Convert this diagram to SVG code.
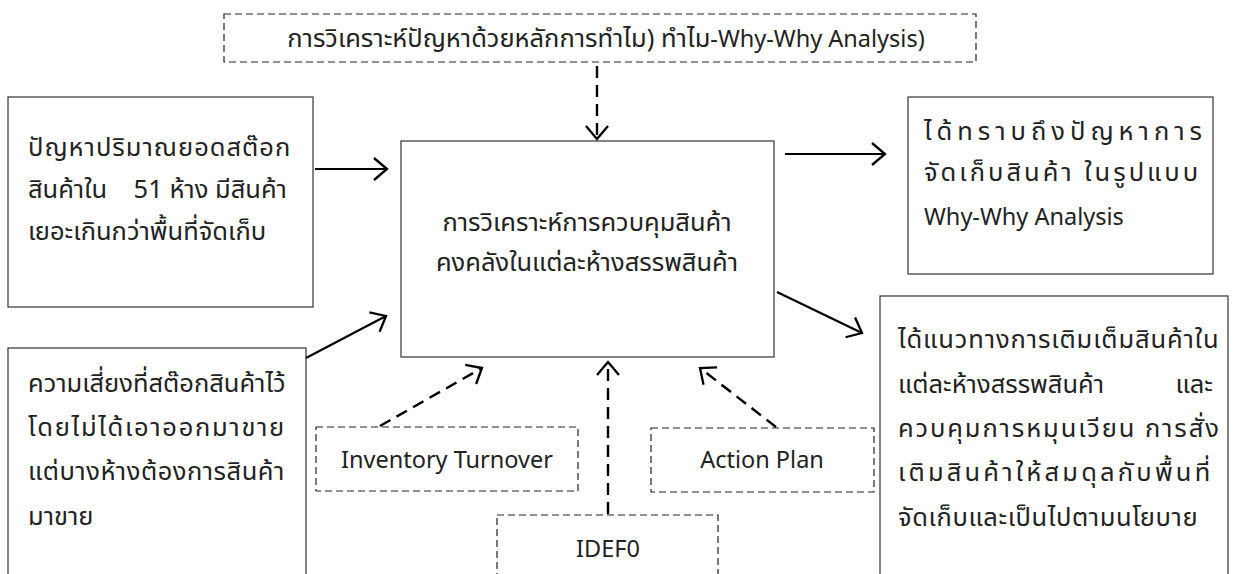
<svg xmlns="http://www.w3.org/2000/svg" width="1235" height="574" viewBox="0 0 1235 574">
<defs>
<style>
.box{fill:#fff;stroke:#333;stroke-width:1.2}
.dbox{fill:#fff;stroke:#222;stroke-width:1.2;stroke-dasharray:7 4}
.t{font-family:"Noto Sans Thai","Noto Sans","DejaVu Sans",sans-serif;font-size:25.5px;fill:#222}
.l{font-size:23.5px}
.c{text-anchor:middle}
.ln{stroke:#000;stroke-width:2.2;fill:none}
.dl{stroke:#000;stroke-width:2.4;fill:none;stroke-dasharray:12 7}
</style>
<marker id="ah" markerUnits="userSpaceOnUse" markerWidth="18" markerHeight="26" refX="14" refY="12" orient="auto" viewBox="0 0 18 24">
<path d="M1,1 L14,12 L1,23" fill="none" stroke="#000" stroke-width="2.3"/>
</marker>
</defs>
<rect width="1235" height="574" fill="#fff"/>

<g id="top">
<rect class="dbox" x="224" y="14" width="752" height="48"/>
<text class="t c" x="606" y="47">การวิเคราะห์ปัญหาด้วยหลักการทำไม) ทำไม<tspan class="l">-Why-Why Analysis)</tspan></text>
</g>

<g id="in1">
<rect class="box" x="8" y="97" width="305" height="210"/>
<text class="t" x="28" y="156" letter-spacing="1">ปัญหาปริมาณยอดสต๊อก</text>
<text class="t" x="28" y="198" xml:space="preserve">สินค้าใน    51 ห้าง มีสินค้า</text>
<text class="t" x="28" y="240">เยอะเกินกว่าพื้นที่จัดเก็บ</text>
</g>

<g id="in2">
<rect class="box" x="8" y="348" width="298" height="240"/>
<text class="t" x="28" y="392">ความเสี่ยงที่สต๊อกสินค้าไว้</text>
<text class="t" x="28" y="436" letter-spacing="1.7">โดยไม่ได้เอาออกมาขาย</text>
<text class="t" x="28" y="480" letter-spacing="0.5">แต่บางห้างต้องการสินค้า</text>
<text class="t" x="28" y="525">มาขาย</text>
</g>

<g id="center">
<rect class="box" x="401" y="141" width="373" height="216"/>
<text class="t c" x="587" y="231">การวิเคราะห์การควบคุมสินค้า</text>
<text class="t c" x="587" y="271">คงคลังในแต่ละห้างสรรพสินค้า</text>
</g>

<g id="out1">
<rect class="box" x="908" y="97" width="305" height="177"/>
<text class="t" x="924" y="140" letter-spacing="5">ได้ทราบถึงปัญหาการ</text>
<text class="t" x="924" y="181" letter-spacing="3">จัดเก็บสินค้า ในรูปแบบ</text>
<text class="t l" x="924" y="225">Why-Why Analysis</text>
</g>

<g id="out2">
<rect class="box" x="880" y="296" width="348" height="290"/>
<text class="t" x="898" y="348" letter-spacing="0.9">ได้แนวทางการเติมเต็มสินค้าใน</text>
<text class="t" x="898" y="393">แต่ละห้างสรรพสินค้า</text>
<text class="t" x="1213" y="393" text-anchor="end">และ</text>
<text class="t" x="898" y="437" letter-spacing="1.9">ควบคุมการหมุนเวียน การสั่ง</text>
<text class="t" x="898" y="481" letter-spacing="3.2">เติมสินค้าให้สมดุลกับพื้นที่</text>
<text class="t" x="898" y="526" letter-spacing="0.6">จัดเก็บและเป็นไปตามนโยบาย</text>
</g>

<g id="inv">
<rect class="dbox" x="316" y="427" width="262" height="64"/>
<text class="t l c" x="447" y="468">Inventory Turnover</text>
</g>

<g id="action">
<rect class="dbox" x="651" y="428" width="223" height="64"/>
<text class="t l c" x="762" y="468">Action Plan</text>
</g>

<g id="idef">
<rect class="dbox" x="497" y="515" width="221" height="70"/>
<text class="t l c" x="608" y="557">IDEF0</text>
</g>

<g id="connectors">
<line class="ln" x1="315" y1="169" x2="387" y2="169" marker-end="url(#ah)"/>
<line class="ln" x1="306" y1="358" x2="386" y2="316" marker-end="url(#ah)"/>
<line class="ln" x1="785" y1="154" x2="885" y2="154" marker-end="url(#ah)"/>
<line class="ln" x1="777" y1="292" x2="862" y2="333" marker-end="url(#ah)"/>
<line class="dl" x1="597" y1="66" x2="597" y2="139" marker-end="url(#ah)"/>
<line class="dl" x1="380" y1="426" x2="482" y2="368" marker-end="url(#ah)"/>
<line class="dl" x1="608" y1="514" x2="608" y2="362" marker-end="url(#ah)"/>
<line class="dl" x1="776" y1="427" x2="700" y2="368" marker-end="url(#ah)"/>
</g>
</svg>
